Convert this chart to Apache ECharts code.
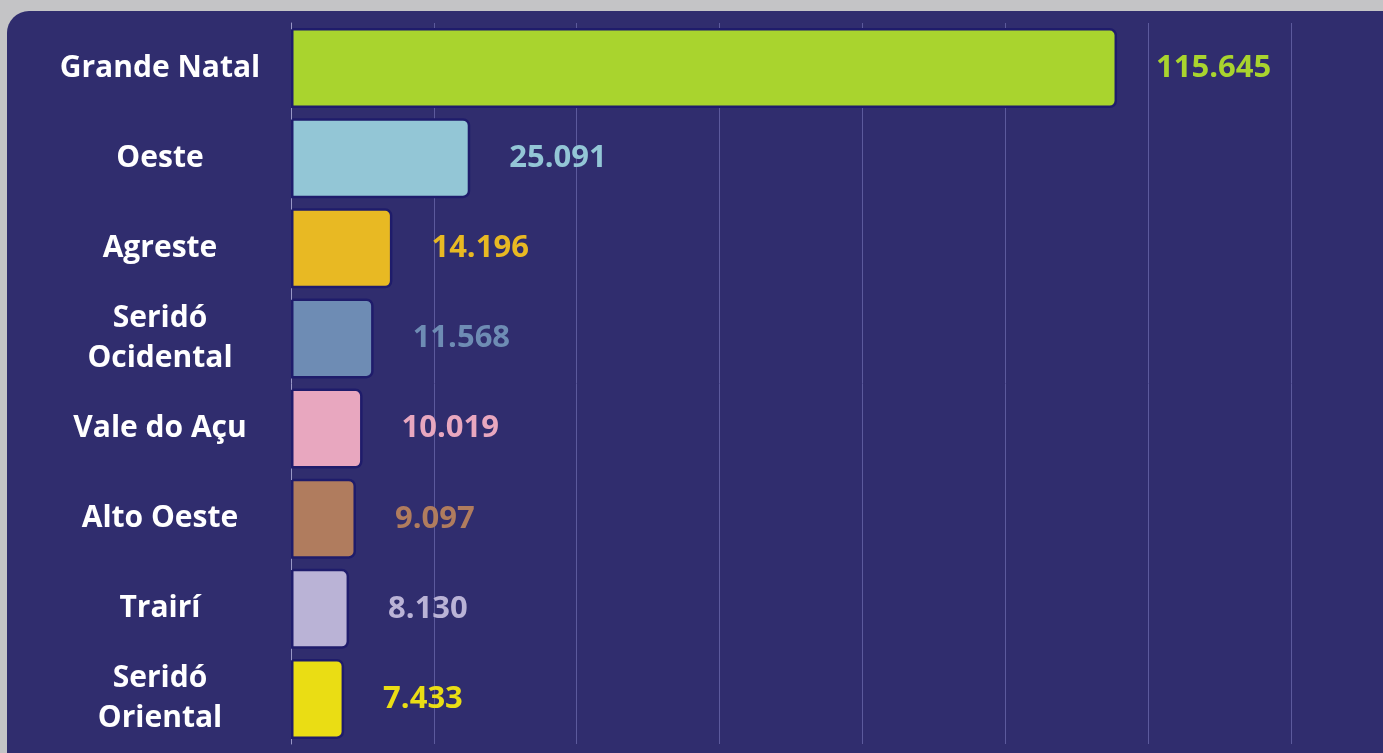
<!DOCTYPE html>
<html>
<head>
<meta charset="utf-8">
<script src="https://cdn.jsdelivr.net/npm/echarts@6/dist/echarts.min.js"></script>
<style>
  html, body { margin: 0; padding: 0; background: #c4c4c6; overflow: hidden; }
  #panel {
    position: absolute; left: 7px; top: 11px; width: 1420px; height: 780px;
    background: #302d6e; border-radius: 22px;
  }
  #chart { position: absolute; left: 0; top: 0; width: 1383px; height: 753px; }
</style>
</head>
<body>
<div id="panel"></div>
<div id="chart"></div>
<script>
const categories = ['Grande Natal', 'Oeste', 'Agreste', 'Seridó\nOcidental', 'Vale do Açu', 'Alto Oeste', 'Trairí', 'Seridó\nOriental']
const values = [115645, 25091, 14196, 11568, 10019, 9097, 8130, 7433]
const barColors = ['#a9d42e', '#93c6d6', '#e8b923', '#6e8cb4', '#e8a7bf', '#b07c5e', '#bab3d6', '#eadd14']

// 115645 -> "115.645"
function fmt(v) {
  return String(v).replace(/\B(?=(\d{3})+(?!\d))/g, '.')
}

const chart = echarts.init(document.getElementById('chart'))
const option = {
  backgroundColor: 'transparent',
  animation: false,
  grid: {
    left: 291,
    right: 92,
    top: 23,
    bottom: 9,
  },
  xAxis: {
    type: 'value',
    min: 0,
    max: 140000,
    interval: 20000,
    axisLabel: { show: false },
    axisLine: { show: false },
    axisTick: { show: false },
    splitLine: {
      lineStyle: { color: '#5c5a9c', width: 1 },
    },
  },
  yAxis: {
    type: 'category',
    inverse: true,
    data: categories,
    axisTick: { show: false },
    axisLine: {
      lineStyle: { color: '#9896c6', width: 1 },
    },
    axisLabel: {
      color: '#ffffff',
      fontFamily: 'Open Sans',
      fontWeight: 'bold',
      fontSize: 30,
      lineHeight: 40,
      align: 'center',
      margin: 131,
    },
  },
  series: [
    {
      type: 'bar',
      barWidth: 80,
      data: values.map((v, i) => ({
        value: v,
        itemStyle: { color: barColors[i] },
        label: { color: barColors[i] },
      })),
      itemStyle: {
        borderColor: '#1f1c6b',
        borderWidth: 2.5,
        borderRadius: [0, 6, 6, 0], // rounded right end
      },
      label: {
        show: true,
        position: 'right',
        distance: 39,
        fontFamily: 'Open Sans',
        fontWeight: 'bold',
        fontSize: 31,
        formatter: (p) => fmt(p.value),
      },
    },
  ],
}
chart.setOption(option)
</script>
</body>
</html>
